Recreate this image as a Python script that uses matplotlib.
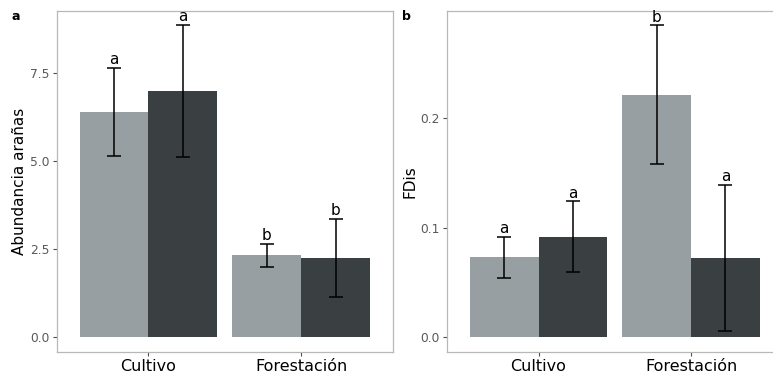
import numpy as np
import matplotlib.pyplot as plt

# data
categories = ['Cultivo', 'Forestación']
light_color = '#989fa2'
dark_color = '#3a3f42'

abund_light = [6.40, 2.33]
abund_light_err = [1.25, 0.33]
abund_dark = [7.00, 2.25]
abund_dark_err = [1.87, 1.11]
abund_letters_light = ['a', 'b']
abund_letters_dark = ['a', 'b']

fdis_light = [0.0728, 0.2214]
fdis_light_err = [0.0189, 0.0637]
fdis_dark = [0.0915, 0.0723]
fdis_dark_err = [0.0325, 0.0667]
fdis_letters_light = ['a', 'b']
fdis_letters_dark = ['a', 'a']

W, H = 773, 380
fig = plt.figure(figsize=(W / 100, H / 100), dpi=100)
ax_a = fig.add_axes([56.7 / W, 1 - 351.7 / H, 336.3 / W, 341 / H])
ax_b = fig.add_axes([447 / W, 1 - 351.7 / H, 335.6 / W, 341 / H])


def draw_panel(ax, light, light_err, dark, dark_err, let_l, let_d, ylabel, yticks, ylim):
    x = np.arange(1, len(categories) + 1)
    w = 0.45
    ax.bar(x - w / 2, light, width=w, color=light_color, zorder=2)
    ax.bar(x + w / 2, dark, width=w, color=dark_color, zorder=2)
    ax.errorbar(x - w / 2, light, yerr=light_err, fmt='none', ecolor='black',
                elinewidth=1.1, capsize=4.7, capthick=1.1, zorder=3)
    ax.errorbar(x + w / 2, dark, yerr=dark_err, fmt='none', ecolor='black',
                elinewidth=1.1, capsize=4.7, capthick=1.1, zorder=3)
    for xi, v, e, t in zip(x - w / 2, light, light_err, let_l):
        ax.annotate(t, (xi, v + e), xytext=(0, 0.5), textcoords='offset points',
                    ha='center', va='bottom', fontsize=11)
    for xi, v, e, t in zip(x + w / 2, dark, dark_err, let_d):
        ax.annotate(t, (xi, v + e), xytext=(0, 0.5), textcoords='offset points',
                    ha='center', va='bottom', fontsize=11)

    ax.set_xlim(0.4, 2.6)
    ax.set_ylim(*ylim)
    ax.set_xticks(x)
    ax.set_xticklabels(categories, fontsize=11.5)
    ax.set_yticks(yticks)
    ax.set_yticklabels([f'{t:.1f}' for t in yticks], fontsize=8.8, color='#595959')
    ax.set_ylabel(ylabel, fontsize=11, labelpad=2)
    ax.tick_params(length=3, width=0.8, color='#4d4d4d', pad=2)
    for s in ax.spines.values():
        s.set_color('#b8b8b8')
        s.set_linewidth(0.9)


draw_panel(ax_a, abund_light, abund_light_err, abund_dark, abund_dark_err,
           abund_letters_light, abund_letters_dark, 'Abundancia arañas',
           [0.0, 2.5, 5.0, 7.5], (-0.41, 9.28))
draw_panel(ax_b, fdis_light, fdis_light_err, fdis_dark, fdis_dark_err,
           fdis_letters_light, fdis_letters_dark, 'FDis',
           [0.0, 0.1, 0.2], (-0.0137, 0.2985))

fig.text(16 / W, 1 - 16 / H, 'a', fontsize=9, fontweight='bold', ha='center', va='center')
fig.text(406 / W, 1 - 16 / H, 'b', fontsize=9, fontweight='bold', ha='center', va='center')

fig.savefig('out.png', dpi=100)
